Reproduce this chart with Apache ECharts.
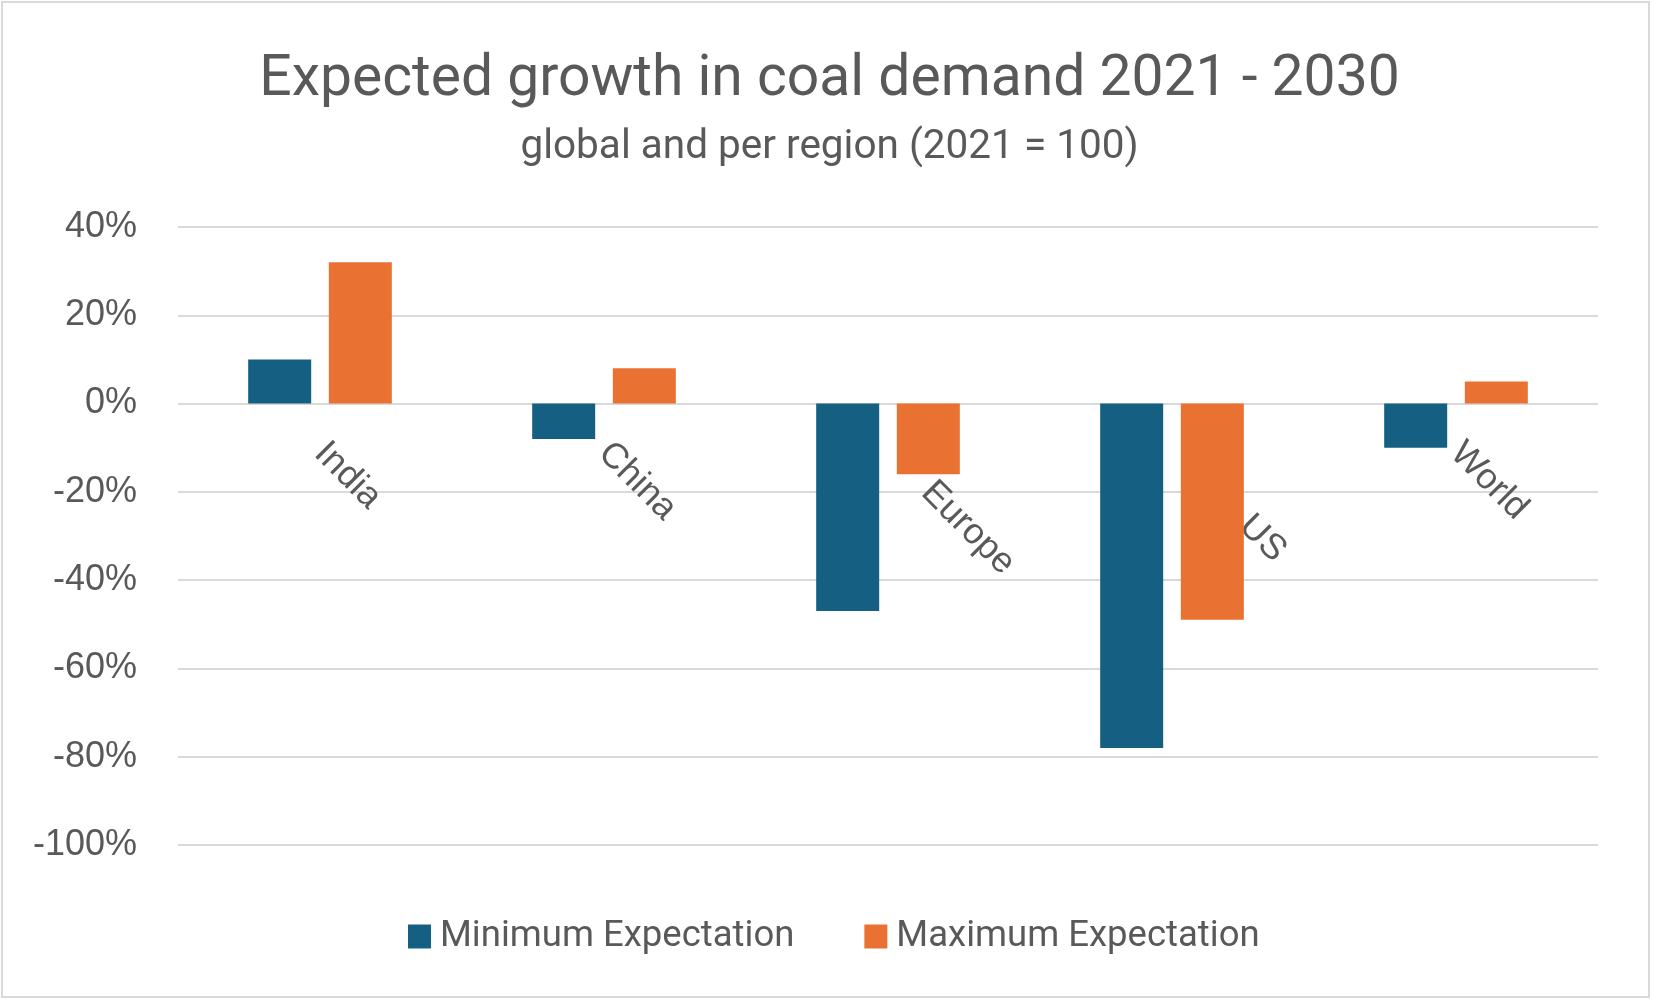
<!DOCTYPE html>
<html>
<head>
<meta charset="utf-8">
<script src="https://cdn.jsdelivr.net/npm/echarts@6/dist/echarts.min.js"></script>
<style>
    html, body { margin: 0; padding: 0; background: #fff; }
    #chart { width: 1659px; height: 1008px; }
</style>
</head>
<body>
<div id="chart"></div>
<script>
// data
var regions = ['India', 'China', 'Europe', 'US', 'World'];
var minExpectation = [10, -8, -47, -78, -10];
var maxExpectation = [32, 8, -16, -49, 5];
var seriesNames = ['Minimum Expectation', 'Maximum Expectation'];

// Europe and US labels sit further out along the slant
var labelShift = { Europe: [20, 0, 0, 55], US: [42, 0, 0, 103] };

var myChart = echarts.init(document.getElementById('chart'));
var option = {
    color: ['#156082', '#E97132'],
    title: [
        {
            text: 'Expected growth in coal demand 2021 - 2030',
            left: 'center',
            top: 42,
            textStyle: { fontFamily: 'Roboto', fontSize: 57, fontWeight: 'normal', color: '#595959', lineHeight: 68 }
        },
        {
            text: 'global and per region (2021 = 100)',
            left: 'center',
            top: 120,
            textStyle: { fontFamily: 'Roboto', fontSize: 40.5, fontWeight: 'normal', color: '#595959', lineHeight: 46 }
        }
    ],
    graphic: [
        {
            type: 'rect',
            shape: { x: 2, y: 2, width: 1647, height: 995 },
            style: { fill: 'none', stroke: '#d9d9d9', lineWidth: 2 },
            silent: true
        }
    ],
    legend: {
        data: seriesNames,
        left: 403,
        top: 913,
        icon: 'rect',
        itemWidth: 23,
        itemHeight: 24,
        itemGap: 70,
        textStyle: { fontFamily: 'Roboto', fontSize: 36.5, color: '#595959', padding: [0, 0, 0, 4] }
    },
    grid: {
        left: 178,
        right: 61,
        top: 227,
        bottom: 163,
        outerBoundsMode: 'none'
    },
    xAxis: {
        type: 'category',
        data: regions.map(function (r) {
            return labelShift[r] ? { value: r, textStyle: { padding: labelShift[r] } } : r;
        }),
        // labels hang from the 0% line, 2/7 of the way down from the top of the plot
        offset: -442,
        axisLine: { show: false, onZero: false },
        axisTick: { show: false },
        axisLabel: {
            rotate: -45,
            margin: 45,
            interval: 0,
            fontFamily: 'Liberation Sans',
            fontSize: 36,
            color: '#595959'
        }
    },
    yAxis: {
        type: 'value',
        min: -100,
        max: 40,
        interval: 20,
        axisLine: { show: false },
        axisTick: { show: false },
        axisLabel: {
            formatter: '{value}%',
            margin: 41,
            fontFamily: 'Liberation Sans',
            fontSize: 36,
            color: '#595959'
        },
        splitLine: { lineStyle: { color: '#d9d9d9', width: 2 } }
    },
    series: [
        {
            name: seriesNames[0],
            type: 'bar',
            barWidth: 63,
            barGap: '28%',
            data: minExpectation
        },
        {
            name: seriesNames[1],
            type: 'bar',
            barWidth: 63,
            barGap: '28%',
            data: maxExpectation
        }
    ]
};
myChart.setOption(option);
window.addEventListener('resize', function () {
    myChart.resize();
});
</script>
</body>
</html>
